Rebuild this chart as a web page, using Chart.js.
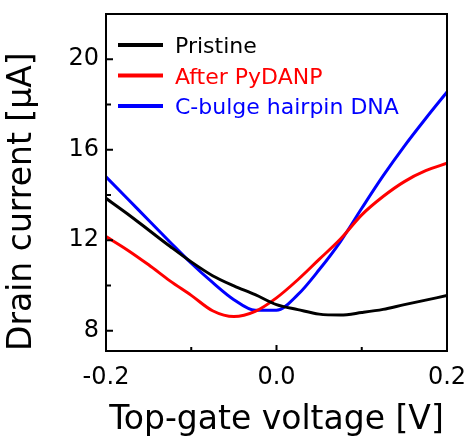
<!DOCTYPE html>
<html>
<head>
<meta charset="utf-8">
<script src="https://cdn.jsdelivr.net/npm/chart.js@4.4.0/dist/chart.umd.min.js"></script>
<style>
  html, body { margin: 0; padding: 0; background: #fff; overflow: hidden; }
</style>
</head>
<body>
<canvas id="chart" width="467" height="446"></canvas>
<script>
// Top-gate voltage sweep [V]
const voltage = [-0.2, -0.175, -0.15, -0.125, -0.1, -0.075, -0.05, -0.025, 0, 0.025, 0.05, 0.075, 0.1, 0.125, 0.15, 0.175, 0.2];

// Drain current [uA]
const pristine = [13.85, 13.17, 12.45, 11.73, 11.04, 10.43, 9.98, 9.59, 9.15, 8.93, 8.73, 8.69, 8.8, 8.94, 9.15, 9.35, 9.55];
const afterPyDANP = [12.16, 11.57, 10.91, 10.2, 9.56, 8.88, 8.62, 8.85, 9.45, 10.25, 11.15, 12.05, 13.12, 13.93, 14.59, 15.07, 15.4];
const hairpinDNA = [14.8, 13.84, 12.88, 11.92, 10.98, 10.13, 9.37, 8.9, 8.9, 9.59, 10.69, 11.94, 13.41, 14.84, 16.16, 17.38, 18.55];

const seriesLabels = ['Pristine', 'After PyDANP', 'C-bulge hairpin DNA'];

const xTicks = [-0.2, 0.0, 0.2];
const xMinorTicks = [-0.1, 0.1];
const yTicks = [8, 12, 16, 20];
const yMinorTicks = [10, 14, 18];

const FONT = "'DejaVu Sans', 'Liberation Sans', sans-serif";

function toPoints(ys) {
    return voltage.map((v, i) => ({ x: v, y: ys[i] }));
}

// no extra room for overflowing tick labels, the layout padding decides
function noPadding(s) {
    s.paddingLeft = 0;
    s.paddingRight = 0;
    s.paddingTop = 0;
    s.paddingBottom = 0;
}

// frame, inside ticks and the legend inside the plot
const framePlugin = {
    id: 'frame',
    afterDraw(chart) {
        const { ctx, chartArea: a } = chart;
        const xs = chart.scales.x;
        const ys = chart.scales.y;
        ctx.save();
        ctx.strokeStyle = '#000';
        ctx.lineWidth = 2;
        ctx.strokeRect(a.left, a.top, a.right - a.left, a.bottom - a.top);

        ctx.beginPath();
        xTicks.forEach(v => {
            const px = xs.getPixelForValue(v);
            ctx.moveTo(px, a.bottom);
            ctx.lineTo(px, a.bottom - 6);
        });
        xMinorTicks.forEach(v => {
            const px = xs.getPixelForValue(v);
            ctx.moveTo(px, a.bottom);
            ctx.lineTo(px, a.bottom - 4);
        });
        yTicks.forEach(v => {
            const py = ys.getPixelForValue(v);
            ctx.moveTo(a.left, py);
            ctx.lineTo(a.left + 7, py);
        });
        yMinorTicks.forEach(v => {
            const py = ys.getPixelForValue(v);
            ctx.moveTo(a.left, py);
            ctx.lineTo(a.left + 5, py);
        });
        ctx.stroke();

        // legend
        ctx.font = '22px ' + FONT;
        ctx.textBaseline = 'alphabetic';
        chart.data.datasets.forEach((ds, i) => {
            const y = a.top + 31 + i * 30.5;
            ctx.strokeStyle = ds.borderColor;
            ctx.lineWidth = 4;
            ctx.beginPath();
            ctx.moveTo(a.left + 12, y);
            ctx.lineTo(a.left + 57, y);
            ctx.stroke();
            ctx.fillStyle = ds.borderColor;
            ctx.fillText(ds.label, a.left + 69, y + 8);
        });
        ctx.restore();
    }
};

const ctx = document.getElementById('chart').getContext('2d');

new Chart(ctx, {
    type: 'line',
    data: {
        datasets: [
            { label: seriesLabels[0], data: toPoints(pristine), borderColor: '#000000' },
            { label: seriesLabels[1], data: toPoints(afterPyDANP), borderColor: '#ff0000' },
            { label: seriesLabels[2], data: toPoints(hairpinDNA), borderColor: '#0000ff' }
        ]
    },
    options: {
        responsive: false,
        animation: false,
        devicePixelRatio: 1,
        layout: { padding: { left: 0, top: 14, right: 20, bottom: 0 } },
        elements: {
            line: { borderWidth: 3, cubicInterpolationMode: 'monotone', fill: false },
            point: { radius: 0 }
        },
        plugins: {
            legend: { display: false },
            tooltip: { enabled: false }
        },
        scales: {
            x: {
                type: 'linear',
                min: -0.2,
                max: 0.2,
                afterBuildTicks: s => { s.ticks = xTicks.map(v => ({ value: v })); },
                afterFit: s => { s.height = 95; noPadding(s); },
                grid: { display: false, drawTicks: false },
                border: { display: false },
                ticks: {
                    color: '#000',
                    padding: 12,
                    maxRotation: 0,
                    font: { family: FONT, size: 24 },
                    callback: v => v.toFixed(1)
                },
                title: {
                    display: true,
                    text: 'Top-gate voltage [V]',
                    color: '#000',
                    font: { family: FONT, size: 33 },
                    padding: { top: 0, bottom: 6 }
                }
            },
            y: {
                min: 7.1,
                max: 22,
                afterBuildTicks: s => { s.ticks = yTicks.map(v => ({ value: v })); },
                afterFit: s => { s.width = 106; noPadding(s); },
                grid: { display: false, drawTicks: false },
                border: { display: false },
                ticks: {
                    color: '#000',
                    padding: 7,
                    font: { family: FONT, size: 24 },
                    callback: v => String(v)
                },
                title: {
                    display: true,
                    text: 'Drain current [μA]',
                    align: 'start',
                    color: '#000',
                    font: { family: FONT, size: 33 },
                    padding: { top: 3, bottom: 0 }
                }
            }
        }
    },
    plugins: [framePlugin]
});
</script>
</body>
</html>
